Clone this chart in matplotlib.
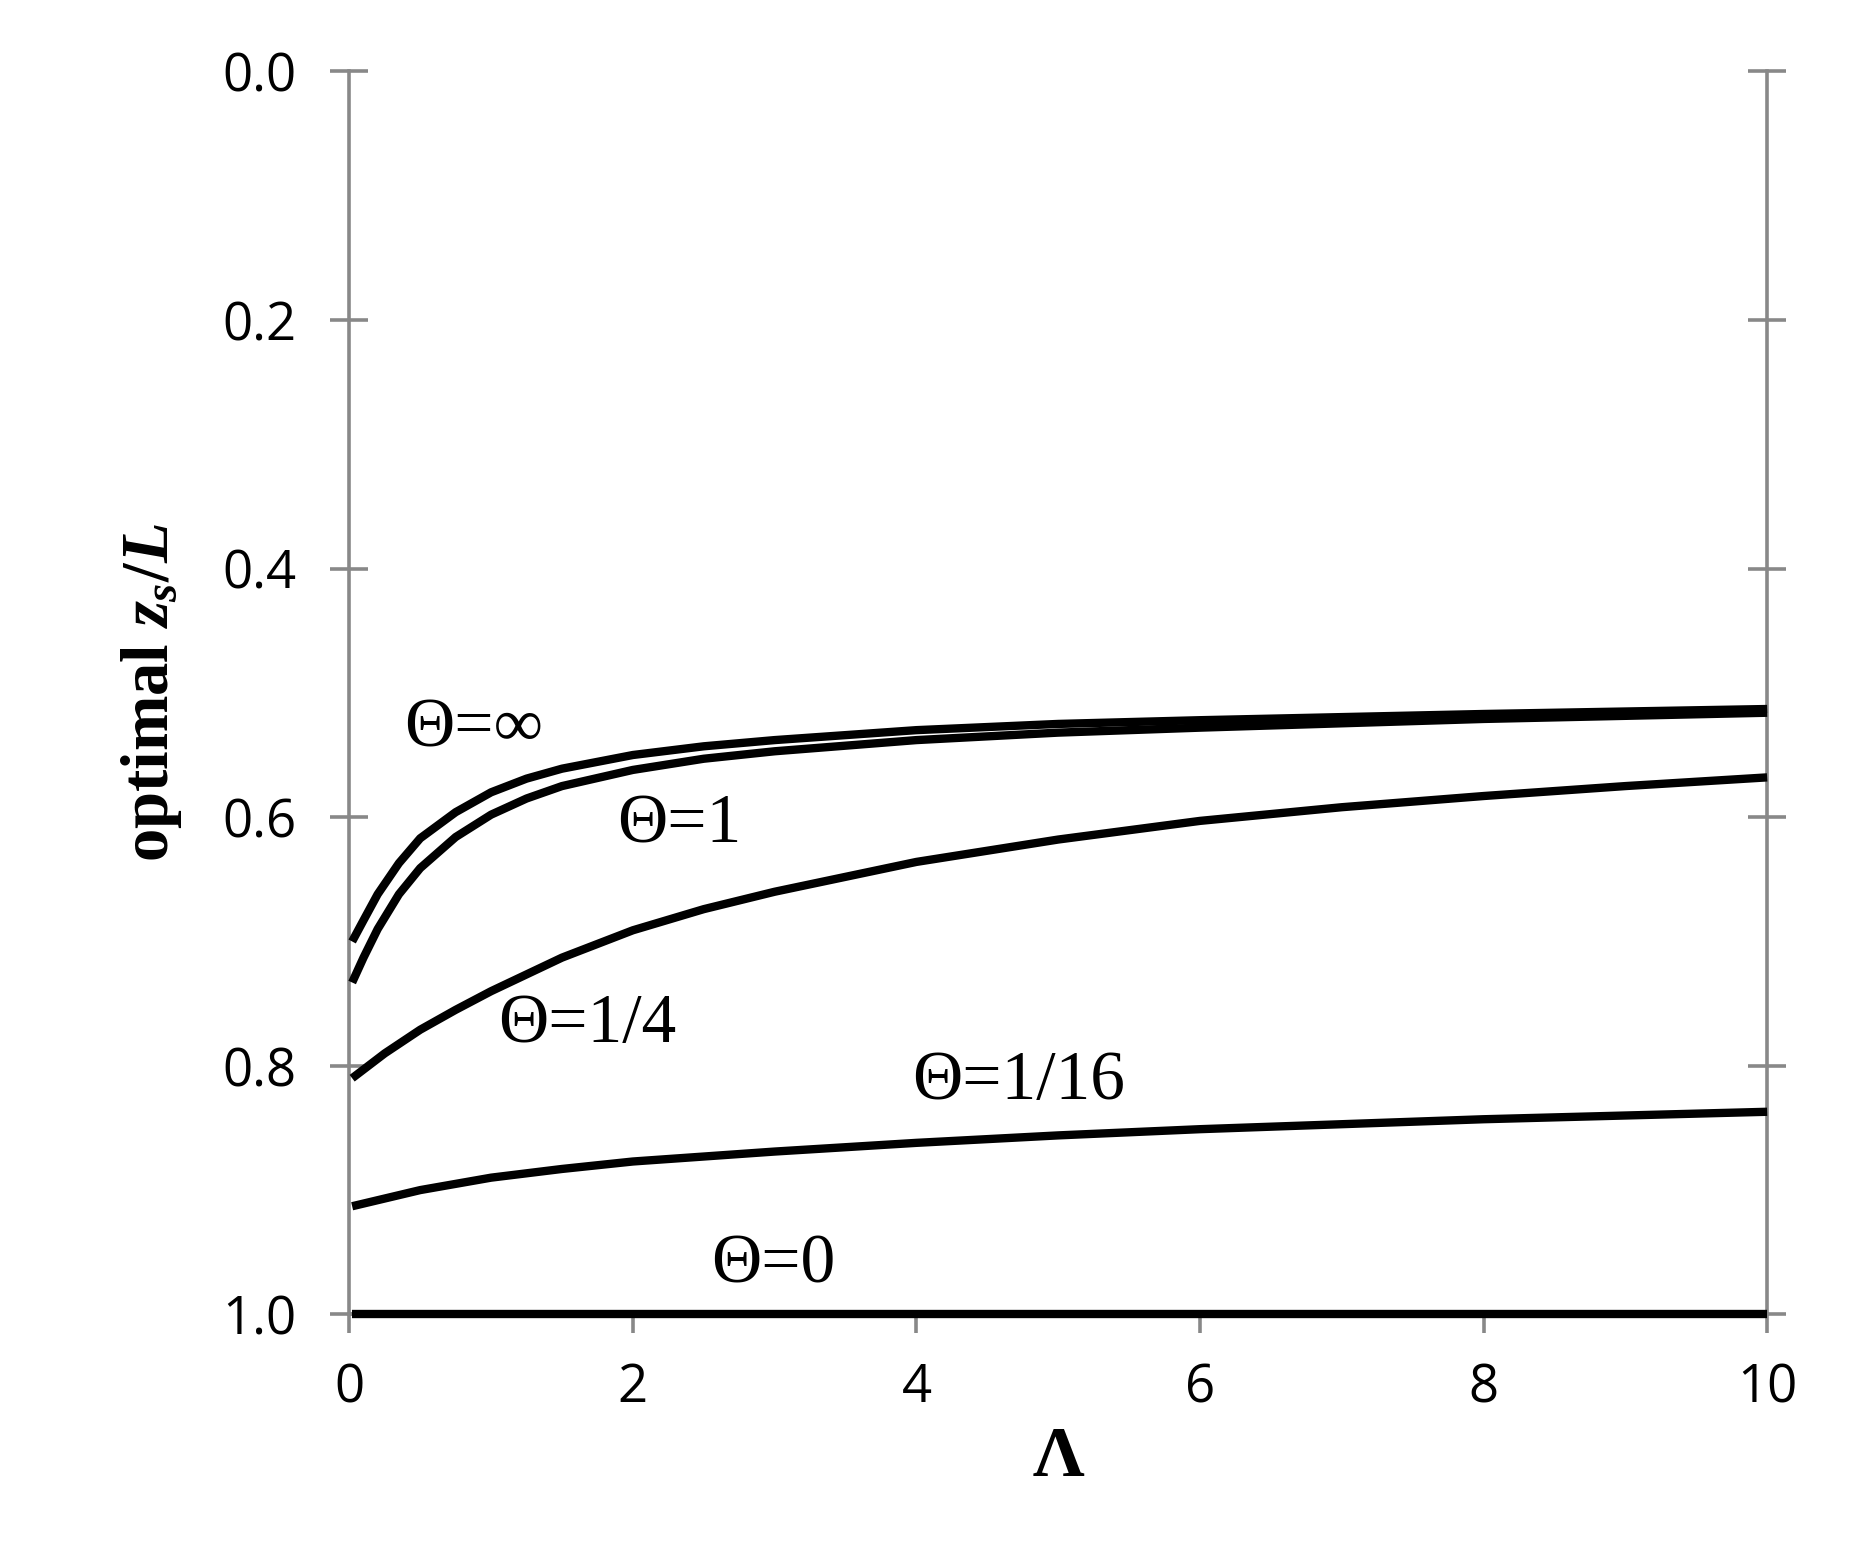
import numpy as np
import matplotlib
matplotlib.use("Agg")
import matplotlib.pyplot as plt

plt.rcParams["mathtext.fontset"] = "custom"
plt.rcParams["mathtext.rm"] = "Liberation Serif:bold"
plt.rcParams["mathtext.it"] = "Liberation Serif:bold:italic"
plt.rcParams["mathtext.bf"] = "Liberation Serif:bold"

# values
lam_inf = [0.02, 0.1, 0.2, 0.35, 0.5, 0.75, 1, 1.25, 1.5, 2, 2.5, 3, 4, 5, 6, 8, 10]
z_inf = [0.700, 0.683, 0.662, 0.637, 0.617, 0.596, 0.580, 0.569, 0.561, 0.550, 0.543, 0.538, 0.530, 0.525, 0.522, 0.517, 0.513]
lam_1 = [0.02, 0.1, 0.2, 0.35, 0.5, 0.75, 1, 1.25, 1.5, 2, 2.5, 3, 4, 5, 6, 8, 10]
z_1 = [0.733, 0.713, 0.690, 0.662, 0.641, 0.616, 0.598, 0.585, 0.575, 0.562, 0.553, 0.547, 0.538, 0.532, 0.528, 0.521, 0.516]
lam_q = [0.02, 0.25, 0.5, 0.75, 1, 1.5, 2, 2.5, 3, 4, 5, 6, 7, 8, 9, 10]
z_q = [0.810, 0.790, 0.771, 0.755, 0.740, 0.713, 0.691, 0.674, 0.660, 0.636, 0.618, 0.603, 0.592, 0.583, 0.575, 0.568]
lam_s = [0.02, 0.5, 1, 1.5, 2, 3, 4, 5, 6, 7, 8, 9, 10]
z_s = [0.913, 0.900, 0.890, 0.883, 0.877, 0.869, 0.862, 0.856, 0.851, 0.847, 0.843, 0.840, 0.837]
lam_0 = [0.02, 10]
z_0 = [1.0, 1.0]

labels = ["Θ=∞", "Θ=1", "Θ=1/4", "Θ=1/16", "Θ=0"]
label_pos = [(0.88, 0.53), (2.33, 0.607), (1.68, 0.767), (4.72, 0.813), (2.99, 0.961)]

fig = plt.figure(figsize=(9.34, 7.75), dpi=200)
ax = fig.add_axes([0.187, 0.152, 0.759, 0.802])
for x, y in [(lam_inf, z_inf), (lam_1, z_1), (lam_q, z_q), (lam_s, z_s), (lam_0, z_0)]:
    ax.plot(x, y, color="black", lw=3.0, solid_capstyle="butt",
            solid_joinstyle="round", zorder=5, clip_on=False)
for t, (x, y) in zip(labels, label_pos):
    ax.text(x, y, t, family="Liberation Serif", fontsize=25, ha="center", va="center")

ax.set_xlim(0, 10)
ax.set_ylim(1.0, 0.0)
ax.set_xticks(range(0, 11, 2))
ax.set_yticks(np.arange(0, 1.01, 0.2))
ax.set_yticklabels([f"{v:.1f}" for v in np.arange(0, 1.01, 0.2)])
ax.spines["top"].set_visible(False)
for s in ["left", "right", "bottom"]:
    ax.spines[s].set_color("#888888")
    ax.spines[s].set_linewidth(1.3)
ax.tick_params(axis="y", direction="inout", length=14, width=1.3, color="#888888",
               right=True, labelsize=19, pad=12)
ax.tick_params(axis="x", direction="out", length=7, width=1.3, color="#888888",
               labelsize=19, pad=10)
for lab in ax.get_xticklabels() + ax.get_yticklabels():
    lab.set_family("Open Sans")
ax.set_xlabel("Λ", family="Liberation Serif", fontweight="bold", fontsize=26, labelpad=4)
ax.set_ylabel(r"optimal $\mathit{z}_{\mathit{s}}/\mathit{L}$", family="Liberation Serif",
              fontweight="bold", fontsize=24, labelpad=14)
fig.savefig("out.png", dpi=200)
